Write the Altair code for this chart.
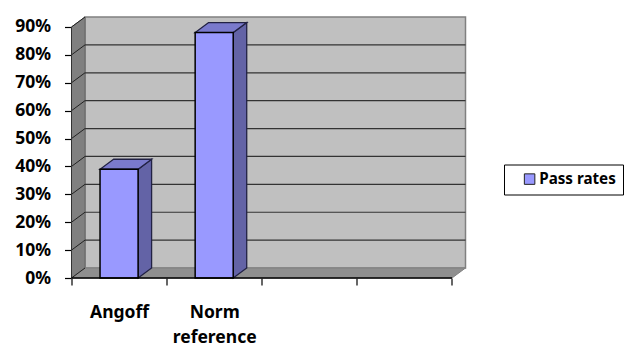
import altair as alt
import pandas as pd

categories = ["Angoff", "Norm reference"]
values = [39, 88]
series_name = "Pass rates"
y_ticks = [0, 10, 20, 30, 40, 50, 60, 70, 80, 90]
x_ticks = [0, 1, 2, 3, 4]
x_label_pos = [0.5, 1.5]

DX = 0.142   # depth of the 3-D box in category units
DY = 3.58    # depth of the 3-D box in percent units
BAR_L = 0.30
BAR_R = 0.70
FONT = "Noto Sans"

xs = alt.Scale(domain=[0, 4 + DX], range=[0, 394], nice=False, zero=False)
ys = alt.Scale(domain=[0, 90 + DY], range=[261, 0], nice=False, zero=False)


def X(f="x", **k):
    return alt.X(f"{f}:Q", scale=xs, axis=None, **k)


def Y(f="y", **k):
    return alt.Y(f"{f}:Q", scale=ys, axis=None, **k)


def side(rows, fill, stroke, sw=1.0):
    """Parallelogram with two vertical edges."""
    return alt.Chart(pd.DataFrame(rows)).mark_area(
        fill=fill, stroke=stroke, strokeWidth=sw, orient="vertical"
    ).encode(x=X(), y=Y(), y2="y2:Q")


def flat(rows, fill, stroke, sw=1.0):
    """Parallelogram with two horizontal edges."""
    return alt.Chart(pd.DataFrame(rows)).mark_area(
        fill=fill, stroke=stroke, strokeWidth=sw, orient="horizontal"
    ).encode(y=Y(), x=X(), x2="x2:Q")


def rules(rows, color, sw=1.0):
    return alt.Chart(pd.DataFrame(rows)).mark_rule(color=color, strokeWidth=sw).encode(
        x=X("x"), x2="x2:Q", y=Y("y"), y2="y2:Q"
    )


back = alt.Chart(pd.DataFrame([{"x": DX, "x2": 4 + DX, "y": DY, "y2": 90 + DY}])).mark_rect(
    fill="#C0C0C0", stroke="#808080", strokeWidth=1.5
).encode(x=X(), x2="x2:Q", y=Y(), y2="y2:Q")

wall = side([{"x": 0, "y": 0, "y2": 90}, {"x": DX, "y": DY, "y2": 90 + DY}], "#808080", "#666666")
floor = flat([{"y": 0, "x": 0, "x2": 4}, {"y": DY, "x": DX, "x2": 4 + DX}], "#8F8F8F", "#808080")

grid = rules([{"x": DX, "x2": 4 + DX, "y": v + DY, "y2": v + DY} for v in y_ticks[1:-1]], "#333333", 1.2)
diag = rules([{"x": 0, "x2": DX, "y": v, "y2": v + DY} for v in y_ticks], "#222222", 1.0)
front_edge = rules([{"x": 0, "x2": 0, "y": 0, "y2": 90}], "#333333", 1.0)
base_line = rules([{"x": 0, "x2": 4, "y": 0, "y2": 0}], "#000000", 1.5)

bar_layers = []
for i, v in enumerate(values):
    l, r = i + BAR_L, i + BAR_R
    bar_layers.append(side([{"x": r, "y": v, "y2": 0}, {"x": r + DX, "y": v + DY, "y2": DY}], "#6363A6", "#222244", 1.3))
    bar_layers.append(flat([{"y": v, "x": l, "x2": r}, {"y": v + DY, "x": l + DX, "x2": r + DX}], "#7A7ACC", "#222244", 1.3))

bars = alt.Chart(pd.DataFrame({
    "l": [i + BAR_L for i in range(len(values))],
    "r": [i + BAR_R for i in range(len(values))],
    "v": values,
    "s": [series_name] * len(values),
})).mark_bar(stroke="#000000", strokeWidth=1.5, opacity=1).encode(
    x=X("l"), x2="r:Q", y=Y("v"), y2=alt.datum(0),
    color=alt.Color("s:N", scale=alt.Scale(domain=[series_name], range=["#9999FF"]), legend=alt.Legend(
        title=None, orient="none", legendX=432.5, legendY=147.5, strokeColor="#000000",
        fillColor="#FFFFFF", padding=7, symbolType="square", symbolSize=110,
        symbolStrokeColor="#222222", symbolStrokeWidth=1, labelFont=FONT, labelFontSize=15.2,
        labelFontWeight="bold", labelColor="#000000", labelOffset=2,
        offset=0, symbolOffset=11,
    )),
)

y_axis = alt.Chart(pd.DataFrame({"y": y_ticks})).mark_point(opacity=0).encode(
    y=alt.Y("y:Q", scale=ys, axis=alt.Axis(
        values=y_ticks, labelExpr="datum.value + '%'", title=None, domain=False, grid=False,
        tickColor="#000000", tickSize=7, tickWidth=1.2, labelPadding=14, labelFont=FONT,
        labelFontSize=17.5, labelFontWeight="bold", labelColor="#000000")),
)

x_tick_axis = alt.Chart(pd.DataFrame({"x": x_ticks})).mark_point(opacity=0).encode(
    x=alt.X("x:Q", scale=xs, axis=alt.Axis(
        orient="bottom", values=x_ticks, labels=False, title=None, domain=False, grid=False,
        tickColor="#000000", tickSize=7, tickWidth=1.2)),
)

label_expr = "datum.value < 1 ? '" + categories[0] + "' : ['" + "','".join(categories[1].split(" ")) + "']"
x_label_axis = alt.Chart(pd.DataFrame({"x": x_label_pos})).mark_point(opacity=0).encode(
    x=alt.X("x:Q", scale=xs, axis=alt.Axis(
        orient="bottom", values=x_label_pos, labelExpr=label_expr, title=None, domain=False, grid=False,
        ticks=False, labelPadding=25, labelFont=FONT, labelFontSize=17.5, labelFontWeight="bold",
        labelColor="#000000", labelLineHeight=25, labelAngle=0)),
)

chart = alt.layer(
    back, wall, floor, grid, diag, front_edge, *bar_layers, bars, base_line,
    y_axis, x_tick_axis, x_label_axis,
).resolve_axis(x="independent", y="independent").properties(
    width=394, height=261,
    padding={"left": 63.5, "top": 9, "right": 159, "bottom": 76},
    autosize=alt.AutoSizeParams(type="none"),
    background="#FFFFFF",
).configure_view(stroke=None)

chart.save("out.html", embed_options={"renderer": "svg", "actions": False})
